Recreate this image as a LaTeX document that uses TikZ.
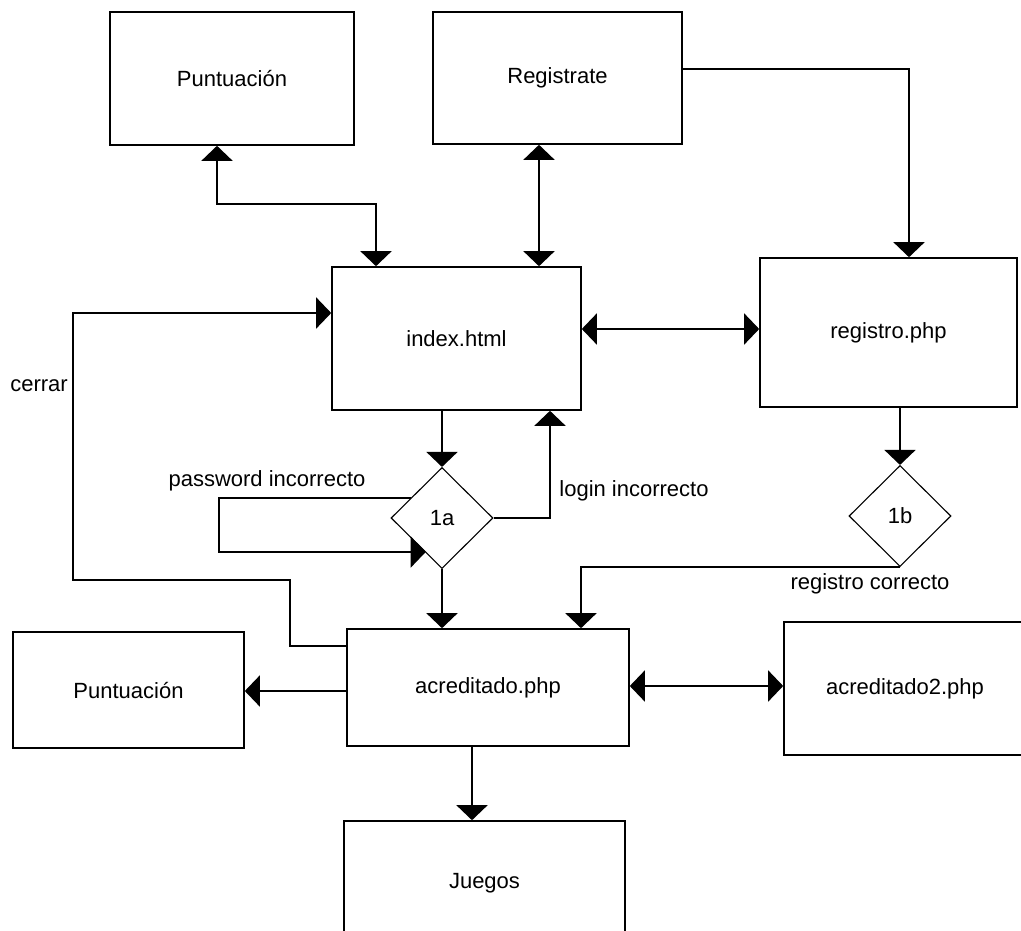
\documentclass[tikz,border=0pt]{standalone}
\usepackage{fontspec}
\setmainfont{Liberation Sans}
\usetikzlibrary{shapes.geometric,arrows.meta}

\begin{document}
\begin{tikzpicture}[x=1pt,y=-1pt,
  caja/.style={draw, line width=1.6pt, inner sep=0pt, font=\Letra},
  rombo/.style={draw, diamond, line width=1.1pt, inner sep=0pt,
    minimum width=102pt, minimum height=101pt, font=\Letra},
  flecha/.style={line width=1.6pt, -{Triangle[length=15pt,width=31pt]}},
  dobles/.style={line width=1.6pt,
    {Triangle[length=15pt,width=31pt]}-{Triangle[length=15pt,width=31pt]}},
  texto/.style={font=\Letra, inner sep=0pt}]

  \newcommand\Letra{\fontsize{22}{26}\selectfont}

  \fill[white] (0,0) rectangle (1021,930);
  \useasboundingbox (0,0) rectangle (1021,930);

  % cajas
  \node[caja, minimum width=244pt, minimum height=133pt] (punt1) at (232,78.5) {Puntuación};
  \node[caja, minimum width=249pt, minimum height=132pt] (regis) at (557.5,78) {Registrate};
  \node[caja, minimum width=249pt, minimum height=143pt] (index) at (456.5,338.5) {index.html};
  \node[caja, minimum width=257pt, minimum height=149pt] (registro) at (888.5,332.5) {registro.php};
  \node[caja, minimum width=282pt, minimum height=117pt] (acred) at (488,687.5) {acreditado.php};
  \node[caja, minimum width=231pt, minimum height=116pt] (punt2) at (128.5,690) {Puntuación};
  \node[caja, minimum width=242pt, minimum height=133pt] (acred2) at (905,688.5) {acreditado2.php};
  \node[caja, minimum width=281pt, minimum height=124pt] (juegos) at (484.5,883) {Juegos};

  \node[rombo] (d1a) at (442,518) {1a};
  \node[rombo] (d1b) at (900,516) {1b};

  % puntos de paso
  \coordinate (b1) at (217,204);
  \coordinate (b2) at (376,204);
  \coordinate (b3) at (539,200);
  \coordinate (b4) at (909,69);
  \coordinate (b5) at (670,329);
  \coordinate (b6) at (290,646);
  \coordinate (b7) at (290,580);
  \coordinate (b8) at (73,580);
  \coordinate (b9) at (73,313);
  \coordinate (b10) at (219,552);
  \coordinate (b11) at (550,518);
  \coordinate (b12) at (581,567);
  \coordinate (b13) at (300,691);
  \coordinate (b14) at (700,686);
  \coordinate (b15) at (472,780);

  \draw[dobles] (punt1.south -| b1) -- (b1) -- (b2) -- (index.north -| b2);
  \draw[dobles] (regis.south -| b3) -- (index.north -| b3);
  \draw[flecha] (regis.east |- b4) -- (b4) -- (registro.north -| b4);
  \draw[dobles] (index.east |- b5) -- (registro.west |- b5);

  % cerrar
  \draw[flecha] (acred.west |- b6) -- (b6) -- (b7) -- (b8) -- (b9) -- (index.west |- b9);
  \node[texto] (lcerrar) at (39,386) {cerrar};

  \draw[flecha] (index.south -| d1a) -- (d1a.north);
  \draw[flecha] (d1a.147) -| (b10) -- (b10 -| d1a.245);
  \node[texto] (lpass) at (267,481) {password incorrecto};
  \draw[flecha] (d1a.east) -| (index.south -| b11);
  \node[texto] (llogin) at (634,491) {login incorrecto};
  \draw[flecha] (d1a.south) -- (acred.north -| d1a.south);

  \draw[flecha] (registro.south -| d1b) -- (d1b.north);
  \draw[flecha] (d1b.south) -| (acred.north -| b12);
  \node[texto] (lreg) at (870,584) {registro correcto};

  \draw[flecha] (acred.west |- b13) -- (punt2.east |- b13);
  \draw[dobles] (acred.east |- b14) -- (acred2.west |- b14);
  \draw[flecha] (acred.south -| b15) -- (juegos.north -| b15);

\end{tikzpicture}
\end{document}
